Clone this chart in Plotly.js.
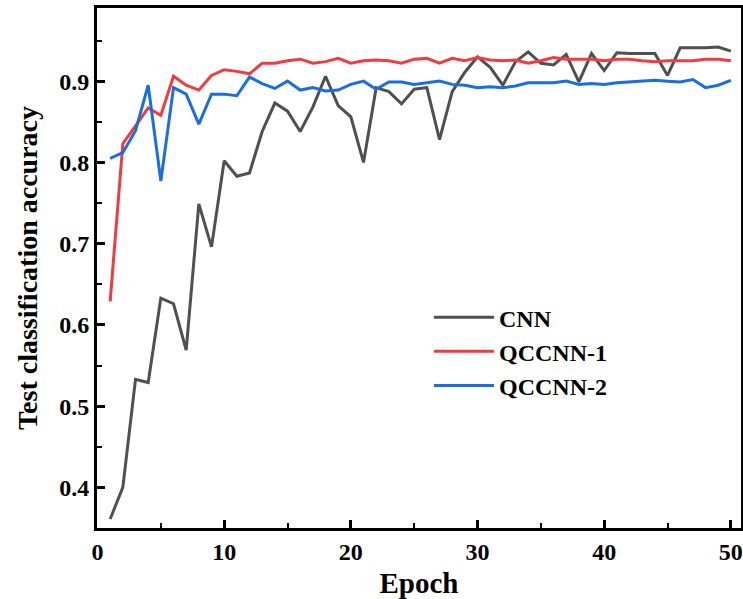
<!DOCTYPE html>
<html>
<head>
<meta charset="utf-8">
<script src="https://cdn.plot.ly/plotly-3.0.1.min.js"></script>
<style>html,body{margin:0;padding:0;background:#fff;}#chart{width:743px;height:599px;}</style>
</head>
<body>
<div id="chart"></div>
<script>
const epochs = [1,2,3,4,5,6,7,8,9,10,11,12,13,14,15,16,17,18,19,20,21,22,23,24,25,26,27,28,29,30,31,32,33,34,35,36,37,38,39,40,41,42,43,44,45,46,47,48,49,50];
const cnn = [0.361,0.400,0.533,0.529,0.633,0.626,0.569,0.749,0.696,0.802,0.783,0.787,0.838,0.873,0.863,0.838,0.868,0.906,0.870,0.856,0.800,0.892,0.887,0.872,0.890,0.892,0.828,0.887,0.911,0.930,0.917,0.895,0.924,0.936,0.922,0.920,0.933,0.899,0.934,0.913,0.935,0.934,0.934,0.934,0.907,0.941,0.941,0.941,0.942,0.937];
const qccnn1 = [0.629,0.823,0.845,0.867,0.858,0.906,0.895,0.889,0.907,0.914,0.912,0.909,0.922,0.922,0.925,0.927,0.922,0.924,0.928,0.922,0.925,0.926,0.925,0.922,0.927,0.928,0.922,0.928,0.925,0.929,0.926,0.925,0.926,0.922,0.925,0.929,0.927,0.927,0.927,0.925,0.927,0.927,0.925,0.924,0.925,0.925,0.925,0.927,0.927,0.925];
const qccnn2 = [0.805,0.812,0.839,0.895,0.777,0.892,0.884,0.847,0.884,0.884,0.882,0.905,0.897,0.891,0.900,0.889,0.892,0.888,0.889,0.896,0.900,0.890,0.899,0.899,0.896,0.898,0.900,0.896,0.895,0.892,0.893,0.892,0.894,0.898,0.898,0.898,0.900,0.896,0.897,0.896,0.898,0.899,0.900,0.901,0.900,0.899,0.902,0.892,0.895,0.901];
const seriesNames = ["CNN","QCCNN-1","QCCNN-2"];
const seriesColors = ["#505050","#f03c41","#1a6ee0"];
const xTicks = [0,10,20,30,40,50];
const yTicks = [0.4,0.5,0.6,0.7,0.8,0.9];

const font = "'Liberation Serif','Times New Roman',serif";
const data = [cnn, qccnn1, qccnn2].map((ys, i) => ({
  x: epochs, y: ys, type: 'scatter', mode: 'lines', name: seriesNames[i],
  line: {color: seriesColors[i], width: 3}
}));

const layout = {
  width: 743, height: 599,
  margin: {l: 97, r: 2, t: 8, b: 71},
  paper_bgcolor: '#fff', plot_bgcolor: '#fff',
  font: {family: font, color: '#000'},
  showlegend: true,
  legend: {x: 0.5155, y: 0.448, xanchor: 'left', yanchor: 'top', bgcolor: 'rgba(0,0,0,0)',
    font: {family: font, size: 24, color: '#000', weight: 'bold'}, itemwidth: 60, tracegroupgap: 0},
  xaxis: {
    range: [-0.04, 50.8], tickvals: xTicks, ticktext: xTicks.map(String),
    ticks: 'inside', ticklen: 8, tickwidth: 3, tickcolor: '#000',
    minor: {dtick: 5, tick0: 0, ticks: 'inside', ticklen: 5, tickwidth: 2, tickcolor: '#000'},
    showline: true, linewidth: 3, linecolor: '#000', mirror: true,
    showgrid: false, zeroline: false,
    tickfont: {family: font, size: 24, color: '#000', weight: 'bold'},
    title: {text: 'Epoch', font: {family: font, size: 29, color: '#000', weight: 'bold'}, standoff: 11},
    automargin: false
  },
  yaxis: {
    range: [0.35, 0.99], tickvals: yTicks, ticktext: yTicks.map(v => v.toFixed(1)),
    ticks: 'inside', ticklen: 8, tickwidth: 3, tickcolor: '#000',
    minor: {dtick: 0.05, tick0: 0, ticks: 'inside', ticklen: 5, tickwidth: 2, tickcolor: '#000'},
    showline: true, linewidth: 3, linecolor: '#000', mirror: true,
    showgrid: false, zeroline: false,
    tickfont: {family: font, size: 24, color: '#000', weight: 'bold'},
    title: {text: 'Test classification accuracy', font: {family: font, size: 28, color: '#000', weight: 'bold'}, standoff: 14},
    automargin: false
  }
};
Plotly.newPlot('chart', data, layout, {displayModeBar: false, staticPlot: true});
</script>
</body>
</html>
